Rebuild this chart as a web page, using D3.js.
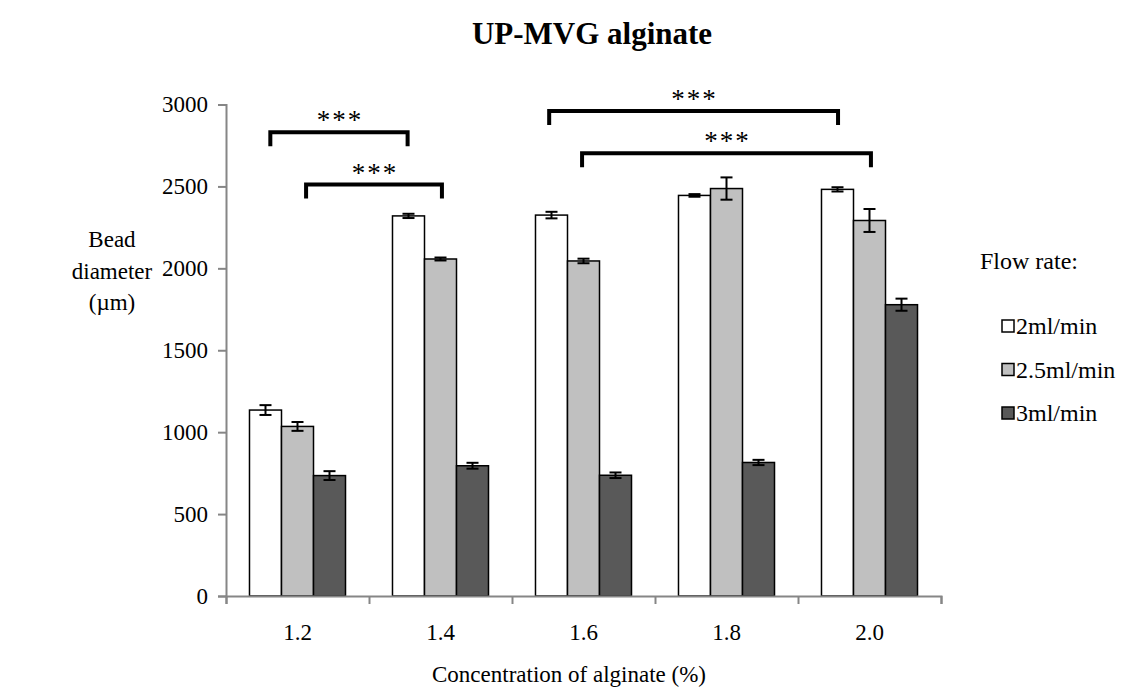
<!DOCTYPE html>
<html>
<head>
<meta charset="utf-8">
<script src="https://cdn.jsdelivr.net/npm/d3@7"></script>
<style>
  html, body { margin: 0; padding: 0; background: #fff; }
  svg { display: block; }
  text { font-family: "Liberation Serif", "Times New Roman", serif; fill: #000; }
</style>
</head>
<body>
<div id="chart"></div>
<script>
const categories = ['1.2', '1.4', '1.6', '1.8', '2.0'];
const seriesNames = ['2ml/min', '2.5ml/min', '3ml/min'];
const seriesColors = ['#ffffff', '#c0c0c0', '#595959'];

// mean bead diameter (µm) per concentration
const flow2 = [1135, 2320, 2325, 2445, 2482];
const flow25 = [1035, 2057, 2045, 2487, 2292];
const flow3 = [735, 795, 737, 815, 1778];

// error (±)
const err2 = [30, 13, 20, 8, 13];
const err25 = [27, 9, 14, 68, 70];
const err3 = [27, 18, 17, 16, 37];

const yTicks = [0, 500, 1000, 1500, 2000, 2500, 3000];

// significance brackets: positions in category units (0 = left edge of 1.2)
const brackets = [
  { from: 0.31, to: 1.27, y: 2830, label: '***' },
  { from: 0.56, to: 1.51, y: 2511, label: '***' },
  { from: 2.26, to: 4.28, y: 2960, label: '***' },
  { from: 2.49, to: 4.51, y: 2702, label: '***' }
];

const W = 1136, H = 688;
const plot = { left: 226, right: 941, top: 104.5, bottom: 596 };

const svg = d3.select('#chart').append('svg')
  .attr('width', W)
  .attr('height', H);

svg.append('rect').attr('width', W).attr('height', H).attr('fill', '#fff');

const y = d3.scaleLinear().domain([0, 3000]).range([plot.bottom, plot.top]);
const x0 = d3.scaleBand().domain(categories).range([plot.left, plot.right]).padding(0);
const x1 = d3.scaleBand().domain(seriesNames).range([0, x0.bandwidth()])
  .paddingInner(0).paddingOuter(0.734);
const xIdx = d3.scaleLinear().domain([0, categories.length]).range([plot.left, plot.right]);

const series = [
  { name: seriesNames[0], color: seriesColors[0], values: flow2, errs: err2 },
  { name: seriesNames[1], color: seriesColors[1], values: flow25, errs: err25 },
  { name: seriesNames[2], color: seriesColors[2], values: flow3, errs: err3 }
];

// title
svg.append('text')
  .attr('x', 592)
  .attr('y', 44)
  .attr('text-anchor', 'middle')
  .attr('font-size', '31px')
  .attr('font-weight', 'bold')
  .text('UP-MVG alginate');

// bars
const groups = svg.selectAll('.series')
  .data(series)
  .enter()
  .append('g')
  .attr('class', 'series');

groups.selectAll('rect')
  .data(s => s.values.map((v, i) => ({ cat: categories[i], v, e: s.errs[i], name: s.name, color: s.color })))
  .enter()
  .append('rect')
  .attr('x', d => x0(d.cat) + x1(d.name))
  .attr('y', d => y(d.v))
  .attr('width', x1.bandwidth())
  .attr('height', d => y(0) - y(d.v))
  .attr('fill', d => d.color)
  .attr('stroke', '#000')
  .attr('stroke-width', 1.5);

// error bars
const errG = svg.append('g').attr('stroke', '#000').attr('stroke-width', 2);
series.forEach(s => {
  s.values.forEach((v, i) => {
    const cx = x0(categories[i]) + x1(s.name) + x1.bandwidth() / 2;
    const e = s.errs[i];
    errG.append('line').attr('x1', cx).attr('x2', cx).attr('y1', y(v + e)).attr('y2', y(v - e));
    errG.append('line').attr('x1', cx - 6).attr('x2', cx + 6).attr('y1', y(v + e)).attr('y2', y(v + e));
    errG.append('line').attr('x1', cx - 6).attr('x2', cx + 6).attr('y1', y(v - e)).attr('y2', y(v - e));
  });
});

// y axis
const yAxis = svg.append('g')
  .attr('transform', `translate(${plot.left},0)`)
  .call(d3.axisLeft(y).tickValues(yTicks).tickSize(8).tickPadding(10).tickFormat(d3.format('d')));
yAxis.select('.domain').attr('stroke', '#868686').attr('stroke-width', 2);
yAxis.selectAll('.tick line').attr('stroke', '#868686').attr('stroke-width', 2);
yAxis.selectAll('.tick text')
  .attr('font-family', '"Liberation Serif", serif')
  .attr('font-size', '23px')
  .attr('fill', '#000');

// x axis: boundary ticks
const xAxis = svg.append('g')
  .attr('transform', `translate(0,${plot.bottom})`)
  .call(d3.axisBottom(xIdx).tickValues(d3.range(categories.length + 1)).tickSize(8).tickFormat(''));
xAxis.select('.domain').attr('stroke', '#868686').attr('stroke-width', 2);
xAxis.selectAll('.tick line').attr('stroke', '#868686').attr('stroke-width', 2);

svg.append('g')
  .selectAll('text')
  .data(categories)
  .enter()
  .append('text')
  .attr('x', d => x0(d) + x0.bandwidth() / 2)
  .attr('y', 640)
  .attr('text-anchor', 'middle')
  .attr('font-size', '23px')
  .text(d => d);

// axis titles
svg.append('text')
  .attr('x', 569)
  .attr('y', 682)
  .attr('text-anchor', 'middle')
  .attr('font-size', '23px')
  .text('Concentration of alginate (%)');

const yLab = svg.append('text')
  .attr('text-anchor', 'middle')
  .attr('font-size', '23px');
['Bead', 'diameter', '(µm)'].forEach((t, i) => {
  yLab.append('tspan').attr('x', 112).attr('y', 247 + i * 31.5).text(t);
});

// significance brackets
const br = svg.append('g');
brackets.forEach(b => {
  const xa = xIdx(b.from), xb = xIdx(b.to), yy = y(b.y);
  br.append('path')
    .attr('d', `M${xa},${yy + 14}V${yy}H${xb}V${yy + 14}`)
    .attr('fill', 'none')
    .attr('stroke', '#000')
    .attr('stroke-width', 4);
  br.append('text')
    .attr('x', (xa + xb) / 2 + 1)
    .attr('y', yy - 3)
    .attr('text-anchor', 'middle')
    .attr('font-family', '"Liberation Sans", Arial, sans-serif')
    .attr('font-size', '27px')
    .attr('letter-spacing', '2px')
    .text(b.label);
});

// legend
const legend = svg.append('g');
legend.append('text')
  .attr('x', 980)
  .attr('y', 269)
  .attr('font-size', '24px')
  .text('Flow rate:');
series.forEach((s, i) => {
  const cy = 326 + i * 43.5;
  legend.append('rect')
    .attr('x', 1002).attr('y', cy - 6)
    .attr('width', 12).attr('height', 12)
    .attr('fill', s.color)
    .attr('stroke', '#000')
    .attr('stroke-width', 1.5);
  legend.append('text')
    .attr('x', 1016)
    .attr('y', cy + 8)
    .attr('font-size', '24px')
    .text(s.name);
});
</script>
</body>
</html>
